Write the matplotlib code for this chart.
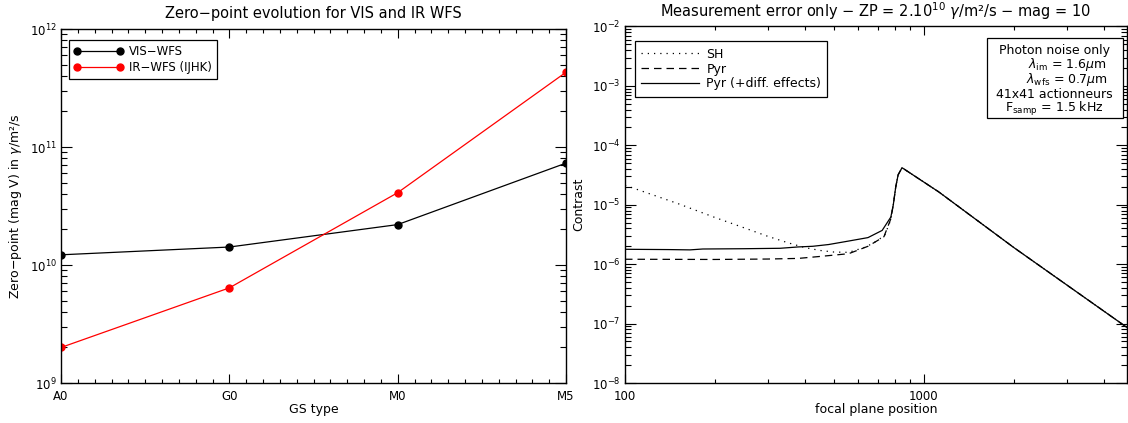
import matplotlib
matplotlib.use('Agg')
import matplotlib.pyplot as plt
from matplotlib.ticker import (LogLocator, AutoMinorLocator, NullFormatter,
                               FuncFormatter)
from matplotlib.patches import Rectangle

# ---------------- data ----------------
gs_types = ['A0', 'G0', 'M0', 'M5']
zp_vis = [1.22e10, 1.42e10, 2.2e10, 7.3e10]
zp_ir = [2.0e9, 6.4e9, 4.1e10, 4.3e11]

sh_pos = [100, 150, 200, 250, 300, 350, 400, 450, 500, 560, 640, 700, 740,
          775, 790, 805, 820, 845, 1122, 2000, 3000, 4780]
sh_con = [2.13e-5, 1.05e-5, 6.1e-6, 4.1e-6, 2.95e-6, 2.3e-6, 1.9e-6, 1.7e-6,
          1.6e-6, 1.58e-6, 1.95e-6, 2.5e-6, 3.1e-6, 5.6e-6, 1.0e-5, 2.0e-5,
          3.2e-5, 4.2e-5, 1.64e-5, 1.9e-6, 4.5e-7, 8.6e-8]

pyr_pos = [100, 200, 300, 380, 450, 560, 650, 735, 775, 790, 805, 820, 845,
           1122, 2000, 3000, 4780]
pyr_con = [1.21e-6, 1.2e-6, 1.22e-6, 1.25e-6, 1.35e-6, 1.5e-6, 2.0e-6,
           2.9e-6, 5.8e-6, 1.0e-5, 2.0e-5, 3.2e-5, 4.2e-5, 1.64e-5, 1.9e-6,
           4.5e-7, 8.6e-8]

pyrd_pos = [100, 140, 165, 182, 250, 330, 380, 425, 480, 560, 650, 725, 775,
            790, 805, 820, 845, 1122, 2000, 3000, 4780]
pyrd_con = [1.78e-6, 1.76e-6, 1.74e-6, 1.8e-6, 1.82e-6, 1.85e-6, 1.95e-6,
            2.0e-6, 2.14e-6, 2.45e-6, 2.8e-6, 3.7e-6, 6.2e-6, 1.0e-5, 2.0e-5,
            3.2e-5, 4.2e-5, 1.64e-5, 1.9e-6, 4.5e-7, 8.6e-8]

info_lines = ['Photon noise only',
              r'$\lambda_{\rm im}$ = 1.6$\mu$m',
              r'$\lambda_{\rm wfs}$ = 0.7$\mu$m',
              '41x41 actionneurs',
              r'F$_{\rm samp}$ = 1.5 kHz']

# ---------------- style ----------------
plt.rcParams['font.family'] = ['DejaVu Sans']
plt.rcParams['mathtext.fontset'] = 'dejavusans'
plt.rcParams['font.size'] = 9

W, H = 1128, 423
fig = plt.figure(figsize=(W / 100, H / 100), dpi=100)
ax1 = fig.add_axes([61 / W, 40 / H, 505 / W, 354 / H])
ax2 = fig.add_axes([625 / W, 40 / H, 502 / W, 356.5 / H])

for ax in (ax1, ax2):
    for s in ax.spines.values():
        s.set_linewidth(1.0)
    ax.tick_params(which='both', direction='in', top=True, right=True,
                   width=0.8, labelsize=8.5)
    ax.tick_params(axis='x', which='major', length=6.5, pad=5)
    ax.tick_params(axis='x', which='minor', length=3)
    ax.tick_params(axis='y', which='major', length=8, pad=3)
    ax.tick_params(axis='y', which='minor', length=4.5)

# ---------------- left panel ----------------
x = list(range(len(gs_types)))
ax1.plot(x, zp_vis, color='black', lw=0.9, marker='o', ms=5,
         label='VIS−WFS')
ax1.plot(x, zp_ir, color='#ff0000', lw=0.9, marker='o', ms=5,
         label='IR−WFS (IJHK)')
ax1.set_yscale('log')
ax1.set_ylim(1e9, 1e12)
ax1.set_xlim(0, 3)
ax1.set_xticks(x)
ax1.set_xticklabels(gs_types)
ax1.xaxis.set_minor_locator(AutoMinorLocator(10))
ax1.yaxis.set_major_locator(LogLocator(base=10))
ax1.yaxis.set_minor_locator(LogLocator(base=10, subs=range(2, 10)))
ax1.yaxis.set_minor_formatter(NullFormatter())
ax1.set_title('Zero−point evolution for VIS and IR WFS', fontsize=10.5, pad=8)
ax1.set_xlabel('GS type', labelpad=0)
ax1.set_ylabel(r'Zero−point (mag V) in $\gamma$/m²/s', labelpad=4)
leg1 = ax1.legend(loc='upper left', bbox_to_anchor=(0.016, 0.968),
                  numpoints=2, handlelength=4.2, handletextpad=0.5,
                  borderpad=0.4, labelspacing=0.25, fancybox=False,
                  framealpha=1, edgecolor='black', borderaxespad=0,
                  fontsize=8.5)
leg1.get_frame().set_linewidth(0.9)

# ---------------- right panel ----------------
ax2.plot(sh_pos, sh_con, color='black', lw=0.9, ls=(0, (1, 4)), label='SH')
ax2.plot(pyr_pos, pyr_con, color='black', lw=0.9, ls=(0, (6, 4)),
         label='Pyr')
ax2.plot(pyrd_pos, pyrd_con, color='black', lw=0.9, ls='-',
         label='Pyr (+diff. effects)')
ax2.set_xscale('log')
ax2.set_yscale('log')
ax2.set_xlim(100, 4780)
ax2.set_ylim(1e-8, 1e-2)
ax2.xaxis.set_major_formatter(FuncFormatter(lambda v, p: f'{v:g}'))
ax2.xaxis.set_minor_formatter(NullFormatter())
ax2.yaxis.set_major_locator(LogLocator(base=10))
ax2.yaxis.set_minor_locator(LogLocator(base=10, subs=range(2, 10)))
ax2.yaxis.set_minor_formatter(NullFormatter())
ax2.set_title(r'Measurement error only − ZP = 2.10$^{10}$ $\gamma$/m²/s'
              r' − mag = 10', fontsize=10.5, pad=7)
ax2.set_xlabel('focal plane position', labelpad=0)
ax2.set_ylabel('Contrast', labelpad=5)
leg2 = ax2.legend(loc='upper left', bbox_to_anchor=(0.02, 0.958),
                  handlelength=4.6, handletextpad=0.6, borderpad=0.5,
                  labelspacing=0.15, fancybox=False, framealpha=1,
                  edgecolor='black', borderaxespad=0, fontsize=9)
leg2.get_frame().set_linewidth(0.9)

# info box
ax2.add_patch(Rectangle((0.721, 0.743), 0.271, 0.225, transform=ax2.transAxes,
                        fill=True, facecolor='white', edgecolor='black',
                        lw=0.9, zorder=5))
ys = [0.934, 0.893, 0.851, 0.808, 0.768]
xs = [0.855, 0.960, 0.960, 0.855, 0.855]
has = ['center', 'right', 'right', 'center', 'center']
for t, xx, yy, ha in zip(info_lines, xs, ys, has):
    ax2.text(xx, yy, t, transform=ax2.transAxes, ha=ha, va='center',
             fontsize=9, zorder=6)

fig.savefig('out.png', dpi=100)
